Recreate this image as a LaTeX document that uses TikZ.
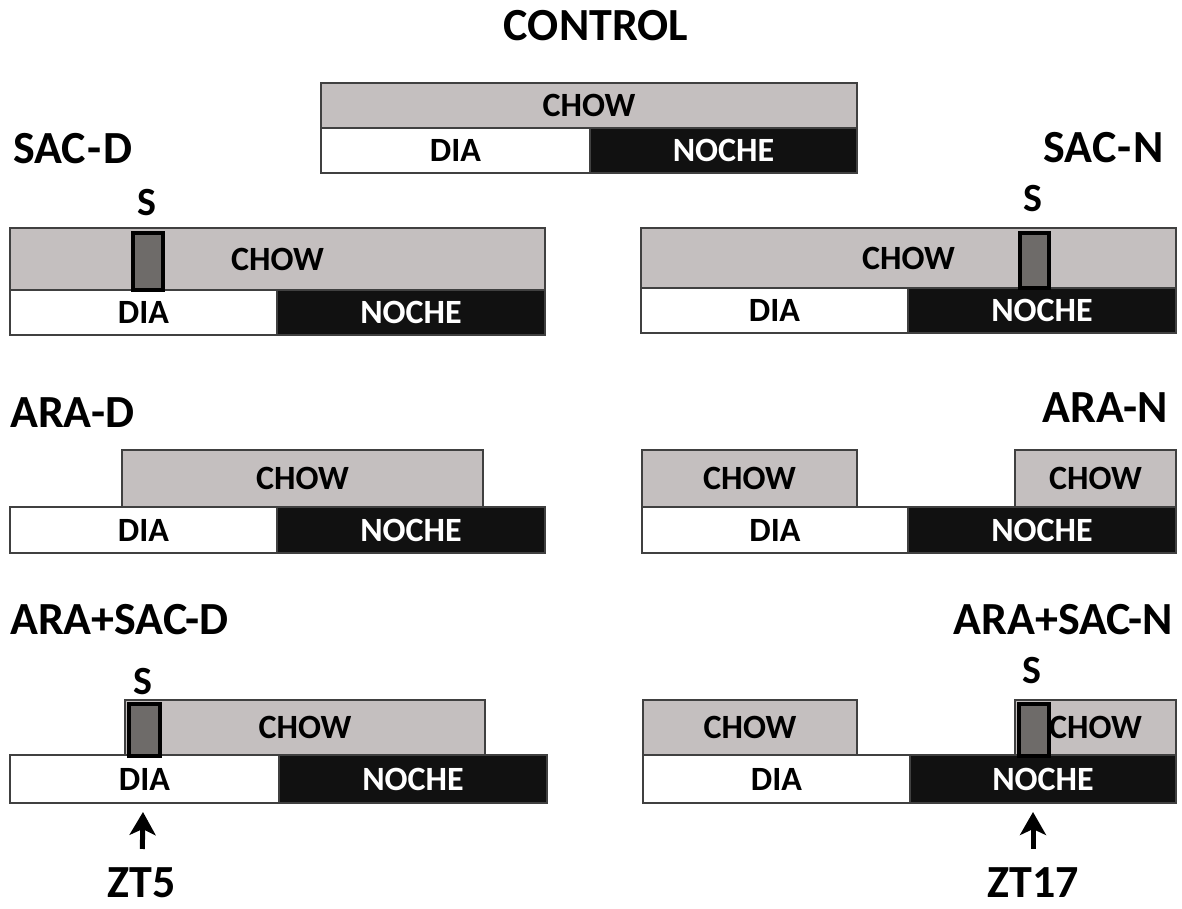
\documentclass[tikz,border=0pt]{standalone}
\usepackage{fontspec}
\setmainfont{Carlito}
\usetikzlibrary{arrows.meta,positioning}

\definecolor{chowgray}{RGB}{196,191,191}
\definecolor{sgray}{RGB}{110,107,105}
\definecolor{nightblack}{RGB}{17,17,17}
\definecolor{edgegray}{RGB}{64,64,64}

\tikzset{
  barbase/.style={draw=edgegray, line width=1.4pt, inner sep=0pt, outer sep=0pt,
    anchor=north west, font=\fontsize{34}{40}\selectfont\bfseries},
  chowbar/.style={barbase, fill=chowgray, text=black},
  diabar/.style={barbase, fill=white, text=black},
  nochebar/.style={barbase, fill=nightblack, text=white, anchor=west},
  sbox/.style={draw=black, line width=3.6pt, fill=sgray, inner sep=0pt, anchor=north west},
  grouptitle/.style={font=\fontsize{46}{54}\selectfont\bfseries, inner sep=0pt},
  slabel/.style={font=\fontsize{40}{46}\selectfont\bfseries, inner sep=0pt, anchor=base},
  ztarrow/.style={-{Stealth[length=23pt,width=26pt,inset=6pt]}, line width=5pt, shorten <=18pt}
}

\begin{document}
\begin{tikzpicture}[x=1pt, y=-1pt]
	\useasboundingbox (0,0) rectangle (1182,909);

	% Control
	\node[grouptitle, anchor=base] (ctrltitle) at (596,41) {CONTROL};
	\node[chowbar, minimum width=536pt, minimum height=45pt] (ctrlchow) at (321,83) {CHOW};
	\node[diabar, minimum width=269pt, minimum height=45pt] (ctrldia) at (321,128) {DIA};
	\node[nochebar, minimum width=267pt, minimum height=45pt, right=0pt of ctrldia] (ctrlnoche) {NOCHE};

	% SAC-D
	\node[grouptitle, anchor=base west] (sacdtitle) at (13,164) {SAC\kern1.5pt-\kern1.5pt D};
	\node[chowbar, minimum width=535pt, minimum height=62pt] (sacdchow) at (10,228) {CHOW};
	\node[diabar, minimum width=267pt, minimum height=45pt] (sacddia) at (10,290) {DIA};
	\node[nochebar, minimum width=268pt, minimum height=45pt, right=0pt of sacddia] (sacdnoche) {NOCHE};
	\node[sbox, minimum width=30pt, minimum height=57pt] (sacds) at (131,231) {};
	\node[slabel] (sacdslabel) at (147,216) {S};

	% SAC-N
	\node[grouptitle, anchor=base east] (sacntitle) at (1164,163) {SAC\kern1.5pt-\kern1.5pt N};
	\node[chowbar, minimum width=535pt, minimum height=60pt] (sacnchow) at (641,228) {CHOW};
	\node[diabar, minimum width=267pt, minimum height=45pt] (sacndia) at (641,288) {DIA};
	\node[nochebar, minimum width=268pt, minimum height=45pt, right=0pt of sacndia] (sacnnoche) {NOCHE};
	\node[sbox, minimum width=29pt, minimum height=55pt] (sacns) at (1018,231) {};
	\node[slabel] (sacnslabel) at (1033,212) {S};

	% ARA-D
	\node[grouptitle, anchor=base west] (aradtitle) at (10,427) {ARA-D};
	\node[chowbar, minimum width=361pt, minimum height=57pt] (aradchow) at (122,450) {CHOW};
	\node[diabar, minimum width=267pt, minimum height=46pt] (araddia) at (10,507) {DIA};
	\node[nochebar, minimum width=268pt, minimum height=46pt, right=0pt of araddia] (aradnoche) {NOCHE};

	% ARA-N
	\node[grouptitle, anchor=base east] (arantitle) at (1168,422) {ARA-N};
	\node[chowbar, minimum width=215pt, minimum height=57pt] (aranchowa) at (642,450) {CHOW};
	\node[chowbar, minimum width=161pt, minimum height=57pt] (aranchowb) at (1015,450) {CHOW};
	\node[diabar, minimum width=266pt, minimum height=46pt] (arandia) at (642,507) {DIA};
	\node[nochebar, minimum width=268pt, minimum height=46pt, right=0pt of arandia] (arannoche) {NOCHE};

	% ARA+SAC-D
	\node[grouptitle, anchor=base west] (arasacdtitle) at (10,634) {ARA+SAC-D};
	\node[chowbar, minimum width=360pt, minimum height=55pt] (arasacdchow) at (125,700) {CHOW};
	\node[diabar, minimum width=269pt, minimum height=48pt] (arasacddia) at (10,755) {DIA};
	\node[nochebar, minimum width=268pt, minimum height=48pt, right=0pt of arasacddia] (arasacdnoche) {NOCHE};
	\node[sbox, minimum width=31pt, minimum height=52pt] (arasacds) at (127,702) {};
	\node[slabel] (arasacdslabel) at (143,694) {S};
	\node[grouptitle, anchor=base] (ztfive) at (142,897) {ZT5};
	\coordinate (ztfivetip) at (143,812);
	\draw[ztarrow] (ztfive.north) -- (ztfivetip);

	% ARA+SAC-N
	\node[grouptitle, anchor=base east] (arasacntitle) at (1173,634) {ARA+SAC-N};
	\node[chowbar, minimum width=214pt, minimum height=55pt] (arasacnchowa) at (643,700) {CHOW};
	\node[chowbar, minimum width=161pt, minimum height=55pt] (arasacnchowb) at (1015,700) {CHOW};
	\node[diabar, minimum width=267pt, minimum height=48pt] (arasacndia) at (643,755) {DIA};
	\node[nochebar, minimum width=266pt, minimum height=48pt, right=0pt of arasacndia] (arasacnnoche) {NOCHE};
	\node[sbox, minimum width=30pt, minimum height=52pt] (arasacns) at (1017,702) {};
	\node[slabel] (arasacnslabel) at (1032,683) {S};
	\node[grouptitle, anchor=base] (ztseventeen) at (1033,897) {ZT17};
	\coordinate (ztseventeentip) at (1033,812);
	\draw[ztarrow] (ztseventeen.north) -- (ztseventeentip);
\end{tikzpicture}
\end{document}
